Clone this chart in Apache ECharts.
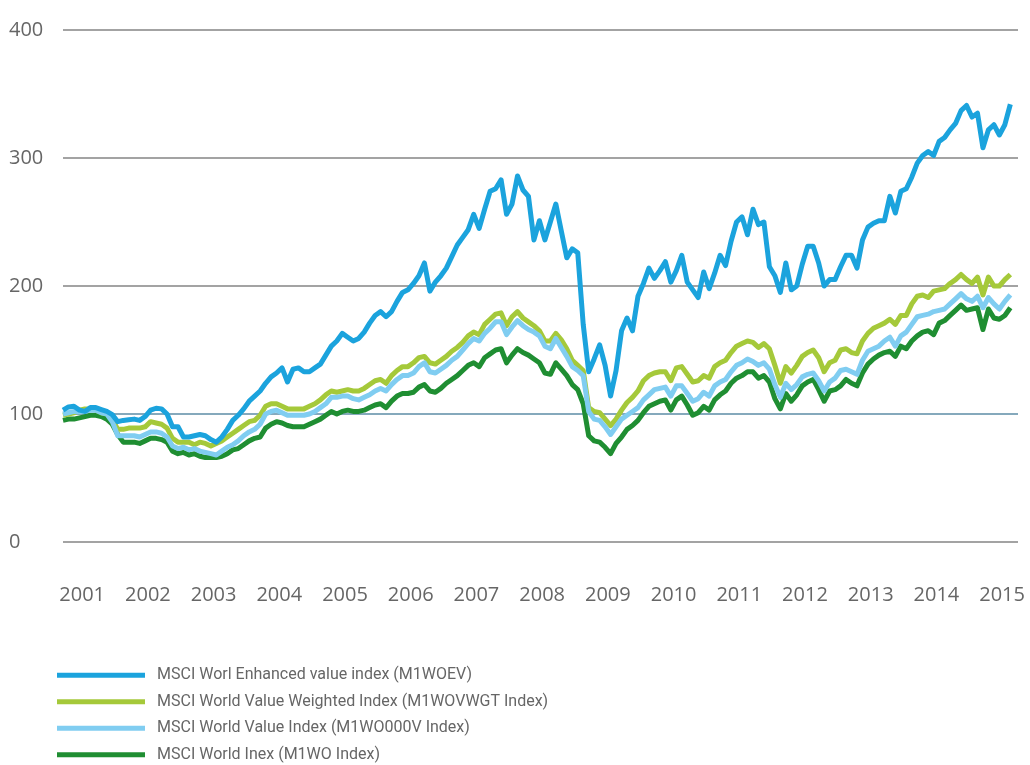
<!DOCTYPE html>
<html>
<head>
<meta charset="utf-8">
<title>MSCI World indices</title>
<script src="https://cdn.jsdelivr.net/npm/echarts@6.0.0/dist/echarts.min.js"></script>
<style>
  html, body { margin: 0; padding: 0; background: #fff; }
  #main { width: 1030px; height: 765px; }
</style>
</head>
<body>
<div id="main"></div>
<script>
// monthly points, first one is mid Sep 2000
var startYear = 2000 + 8.5 / 12;
var yearLabels = [2001, 2002, 2003, 2004, 2005, 2006, 2007, 2008, 2009, 2010, 2011, 2012, 2013, 2014, 2015];

var names = [
    'MSCI Worl Enhanced value index (M1WOEV)',
    'MSCI World Value Weighted Index (M1WOVWGT Index)',
    'MSCI World Value Index (M1WO000V Index)',
    'MSCI World Inex (M1WO Index)'
];

var enhanced = [
    103, 105.5, 106, 103, 102, 105, 105, 103.5, 102, 99.5,
    94, 95, 95.5, 96, 95, 98, 103, 104.5, 104, 100,
    90, 90, 82, 82, 83, 84, 83, 80, 78, 82,
    88, 95, 99, 104, 110, 114, 118, 124, 129, 132,
    136, 125, 135, 136, 133, 133, 136, 139, 146, 153,
    157, 163, 160, 157, 159, 164, 171, 177, 180, 176,
    180, 188, 195, 197, 202, 208, 218, 196, 203, 208,
    214, 223, 232, 238, 244, 256, 245, 260, 274, 276,
    283, 256, 264, 286, 275, 270, 236, 251, 236, 250,
    264, 243, 222, 229, 226, 170, 133, 143, 154, 138,
    114, 134, 165, 175, 165, 192, 202, 214, 206, 212,
    219, 203, 212, 224, 203, 197, 191, 211, 198, 210,
    224, 216, 235, 250, 254, 240, 260, 248, 250, 215,
    208, 195, 218, 197, 200, 217, 231, 231, 218, 200,
    205, 205, 215, 224, 224, 214, 236, 246, 249, 251,
    251, 270, 257, 274, 276, 285, 296, 302, 305, 302,
    313, 316, 322, 327, 337, 341, 332, 335, 308, 322,
    326, 318, 326, 342
];

var weighted = [
    99, 100, 101, 103, 104, 104, 103, 101, 100, 96,
    88, 88, 89, 89, 89, 90, 94, 93, 92, 89,
    81, 78, 78, 78, 76, 78, 77, 75, 77, 79,
    82, 85, 88, 91, 94, 95, 99, 106, 108, 108,
    106, 104, 104, 104, 104, 106, 108, 111, 115, 118,
    117, 118, 119, 118, 118, 120, 123, 126, 127, 124,
    130, 134, 137, 137, 140, 144, 145, 140, 139, 142,
    145, 149, 152, 156, 161, 164, 162, 170, 174, 178,
    179, 169, 176, 180, 175, 172, 169, 165, 157, 157,
    163, 158, 151, 142, 138, 134, 105, 102, 101, 96,
    91, 96, 103, 109, 113, 118, 126, 130, 132, 133,
    133, 126, 136, 137, 131, 125, 126, 130, 128, 137,
    140, 142, 148, 153, 155, 157, 156, 152, 155, 151,
    138, 124, 137, 132, 138, 145, 148, 150, 144, 133,
    140, 142, 150, 151, 148, 147, 157, 163, 167, 169,
    171, 174, 170, 177, 177, 186, 192, 193, 191, 196,
    197, 198, 202, 205, 209, 205, 202, 207, 193, 207,
    200, 200, 205, 209
];

var valueIdx = [
    100, 101, 102, 102, 102, 103, 103, 101, 100, 94,
    83, 83, 83, 83, 82, 84, 86, 86, 85, 82,
    75, 73, 74, 72, 73, 71, 70, 69, 68, 71,
    74, 76, 79, 83, 86, 88, 92, 100, 102, 103,
    101, 99, 99, 99, 99, 100, 102, 105, 108, 113,
    113, 114, 114, 112, 111, 113, 115, 118, 120, 118,
    123, 127, 130, 130, 132, 137, 140, 133, 132, 135,
    138, 142, 145, 150, 155, 159, 157, 163, 167, 172,
    172, 162, 168, 173, 169, 166, 164, 161, 153, 151,
    159, 152, 145, 137, 134, 130, 102, 96, 95, 90,
    84, 90, 96, 99, 102, 105, 111, 115, 119, 120,
    121, 114, 122, 122, 116, 110, 112, 117, 114, 122,
    125, 127, 133, 138, 140, 143, 141, 138, 140, 135,
    123, 113, 124, 119, 123, 129, 131, 132, 126, 118,
    125, 128, 134, 135, 133, 131, 142, 149, 151, 153,
    157, 160, 153, 161, 164, 170, 176, 177, 178, 180,
    181, 182, 186, 190, 194, 190, 188, 192, 183, 191,
    186, 182, 188, 193
];

var world = [
    95, 96, 96, 97, 98, 99, 99, 98, 96, 92,
    84, 78, 78, 78, 77, 79, 81, 81, 80, 78,
    71, 69, 70, 68, 69, 67, 66, 66, 66, 67,
    69, 72, 73, 76, 79, 81, 82, 89, 92, 94,
    93, 91, 90, 90, 90, 92, 94, 96, 99, 102,
    100, 102, 103, 102, 102, 103, 105, 107, 108, 105,
    110, 114, 116, 116, 117, 121, 123, 118, 117, 120,
    124, 127, 130, 134, 138, 140, 137, 144, 147, 150,
    151, 140, 146, 151, 148, 146, 143, 140, 132, 131,
    140, 135, 130, 123, 119, 108, 83, 79, 78, 74,
    69, 77, 82, 88, 91, 95, 101, 106, 108, 110,
    111, 103, 111, 114, 107, 99, 101, 106, 103, 111,
    115, 118, 124, 128, 130, 133, 133, 128, 130, 125,
    112, 104, 116, 110, 115, 122, 125, 127, 119, 110,
    118, 119, 122, 127, 124, 122, 132, 139, 143, 146,
    148, 149, 145, 153, 151, 157, 161, 164, 165, 162,
    171, 173, 177, 181, 185, 181, 182, 183, 166, 182,
    175, 174, 177, 183
];

var colors = ['#1ba3dd', '#a5c93a', '#80cdf1', '#1f8e32'];
var textColor = '#666666';
var axisFont = '"Open Sans", "Noto Sans", sans-serif';
var legendFont = 'Roboto, "Open Sans", sans-serif';

function toPairs(arr) {
    return arr.map(function (v, i) {
        return [startYear + i / 12, v];
    });
}

function lineSeries(name, data, color) {
    return {
        name: name,
        type: 'line',
        data: toPairs(data),
        showSymbol: false,
        symbol: 'none',
        color: color,
        lineStyle: {width: 5, color: color, join: 'round'}
    };
}

var myChart = echarts.init(document.getElementById('main'));
var option = {
    animation: false,
    textStyle: {fontFamily: axisFont},
    grid: {left: 63, right: 12, top: 30, bottom: 223},
    xAxis: {
        type: 'value',
        min: startYear,
        max: startYear + 174.4 / 12,
        axisLine: {show: false},
        axisTick: {show: false},
        splitLine: {show: false},
        axisLabel: {
            customValues: yearLabels,
            formatter: function (v) { return String(Math.round(v)); },
            margin: 43,
            fontSize: 20,
            color: textColor,
            fontFamily: axisFont
        }
    },
    yAxis: {
        type: 'value',
        min: 0,
        max: 400,
        interval: 100,
        axisLine: {show: false},
        axisTick: {show: false},
        axisLabel: {
            align: 'left',
            margin: 54,
            fontSize: 20,
            color: textColor,
            fontFamily: axisFont
        },
        splitLine: {
            lineStyle: {
                // the 100 line is bluish
                color: ['#a3a3a3', '#85a9bc', '#a3a3a3', '#a3a3a3', '#a3a3a3'],
                width: 2
            }
        }
    },
    legend: {
        orient: 'vertical',
        left: 57,
        top: 666,
        height: 110,
        padding: 0,
        icon: 'rect',
        itemWidth: 88,
        itemHeight: 5,
        itemGap: 8,
        data: names,
        textStyle: {
            fontSize: 16,
            lineHeight: 18.5,
            color: textColor,
            fontFamily: legendFont,
            padding: [0, 0, 0, 7]
        }
    },
    // draw order: dark green at the bottom, enhanced on top
    series: [
        lineSeries(names[3], world, colors[3]),
        lineSeries(names[1], weighted, colors[1]),
        lineSeries(names[2], valueIdx, colors[2]),
        lineSeries(names[0], enhanced, colors[0])
    ]
};
myChart.setOption(option);
</script>
</body>
</html>
